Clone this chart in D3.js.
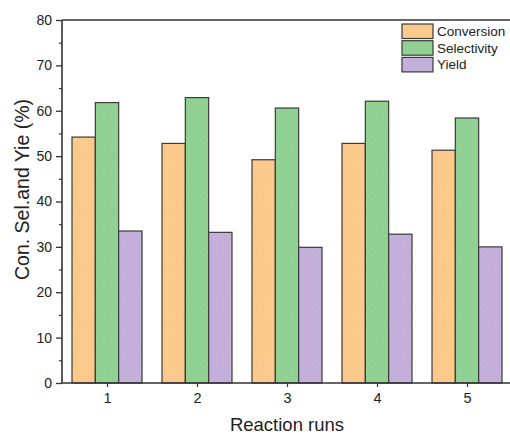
<!DOCTYPE html>
<html>
<head>
<meta charset="utf-8">
<script src="https://cdn.jsdelivr.net/npm/d3@7"></script>
<style>
  html, body { margin: 0; padding: 0; background: #fff; }
  svg { display: block; font-family: Arial, "Liberation Sans", sans-serif; }
</style>
</head>
<body>
<svg id="chart" width="510" height="434"></svg>
<script>
// Reaction runs on the x axis
const runs = [1, 2, 3, 4, 5];
const seriesNames = ["Conversion", "Selectivity", "Yield"];
// Percent values per run
const conversion = [54.2, 52.8, 49.2, 52.8, 51.3];
const selectivity = [61.8, 62.9, 60.6, 62.1, 58.4];
const yieldVals = [33.5, 33.2, 29.9, 32.8, 30.0];
const yTicks = [0, 10, 20, 30, 40, 50, 60, 70, 80];
const yMinor = [5, 15, 25, 35, 45, 55, 65, 75];

const seriesValues = [conversion, selectivity, yieldVals];
const colors = ["#fdca8e", "#92d194", "#c5b0db"];
const dots = ["#f0b777", "#7dbf80", "#b39ccc"];

const svg = d3.select("#chart");
const m = { left: 62, right: 512, top: 20, bottom: 383 };

const x = d3.scaleLinear().domain([0.5, 5.5]).range([m.left, m.right]);
const inner = d3.scaleBand().domain(seriesNames).range([-35, 35]);
const y = d3.scaleLinear().domain([0, 80]).range([m.bottom, m.top]);

// Speckled fill patterns
const defs = svg.append("defs");
seriesNames.forEach((s, i) => {
  const p = defs.append("pattern")
    .attr("id", "pat" + i)
    .attr("patternUnits", "userSpaceOnUse")
    .attr("width", 7).attr("height", 7);
  p.append("rect").attr("width", 7).attr("height", 7).attr("fill", colors[i]);
  [[1, 1], [4.5, 3], [2, 5.5]].forEach(([cx, cy]) =>
    p.append("circle").attr("cx", cx).attr("cy", cy).attr("r", 0.55)
      .attr("fill", dots[i]).attr("opacity", 0.8));
});

// Bars
const data = [];
runs.forEach((r, ri) => seriesNames.forEach((s, si) =>
  data.push({ run: r, series: s, si, value: seriesValues[si][ri] })));

svg.append("g").selectAll("rect").data(data).join("rect")
  .attr("x", d => x(d.run) + inner(d.series))
  .attr("y", d => y(d.value))
  .attr("width", inner.bandwidth())
  .attr("height", d => y(0) - y(d.value))
  .attr("fill", d => `url(#pat${d.si})`)
  .attr("stroke", "#3a3a3a")
  .attr("stroke-width", 1.2);

const axisColor = "#333";

// Left axis with major and minor ticks
const yAxis = svg.append("g").attr("transform", `translate(${m.left},0)`)
  .call(d3.axisLeft(y).tickValues(yTicks).tickSize(6).tickPadding(4));
yAxis.select(".domain").remove();
yAxis.selectAll("line").attr("stroke", axisColor).attr("stroke-width", 1.3);
yAxis.selectAll("text").attr("font-size", 14).attr("fill", "#222")
  .attr("font-family", "Arial, 'Liberation Sans', sans-serif");

svg.append("g").attr("transform", `translate(${m.left},0)`)
  .call(d3.axisLeft(y).tickValues(yMinor).tickSize(3).tickFormat(""))
  .call(g => g.select(".domain").remove())
  .selectAll("line").attr("stroke", axisColor).attr("stroke-width", 1.2);

// Bottom axis
const xAxis = svg.append("g").attr("transform", `translate(0,${m.bottom})`)
  .call(d3.axisBottom(x).tickValues(runs).tickFormat(d3.format("d")).tickSize(4).tickPadding(6));
xAxis.select(".domain").remove();
xAxis.selectAll("line").attr("stroke", axisColor).attr("stroke-width", 1.2);
xAxis.selectAll("text").attr("font-size", 14.5).attr("fill", "#222")
  .attr("font-family", "Arial, 'Liberation Sans', sans-serif");

// Frame lines
svg.append("line").attr("x1", m.left).attr("x2", 510).attr("y1", y(0)).attr("y2", y(0))
  .attr("stroke", axisColor).attr("stroke-width", 1.6);
svg.append("line").attr("x1", m.left).attr("x2", 510).attr("y1", y(80)).attr("y2", y(80))
  .attr("stroke", axisColor).attr("stroke-width", 1.4);
svg.append("line").attr("x1", m.left).attr("x2", m.left).attr("y1", y(80)).attr("y2", y(0))
  .attr("stroke", axisColor).attr("stroke-width", 1.6);

// Axis titles
svg.append("text")
  .attr("x", (m.left + 510) / 2 + 1).attr("y", 431)
  .attr("text-anchor", "middle").attr("font-size", 18.5).attr("fill", "#222")
  .text("Reaction runs");
svg.append("text")
  .attr("transform", `translate(29,${y(40) - 12}) rotate(-90)`)
  .attr("text-anchor", "middle").attr("font-size", 19.5).attr("fill", "#222")
  .text("Con. Sel.and Yie (%)");

// Legend
const legend = svg.append("g").attr("transform", "translate(402,24)");
seriesNames.forEach((s, i) => {
  const row = legend.append("g").attr("transform", `translate(0,${i * 16.7})`);
  row.append("rect").attr("width", 31).attr("height", 14.5)
    .attr("fill", `url(#pat${i})`).attr("stroke", "#3a3a3a").attr("stroke-width", 1.2);
  row.append("text").attr("x", 35).attr("y", 12).attr("font-size", 13.5)
    .attr("fill", "#222").text(s);
});
</script>
</body>
</html>
